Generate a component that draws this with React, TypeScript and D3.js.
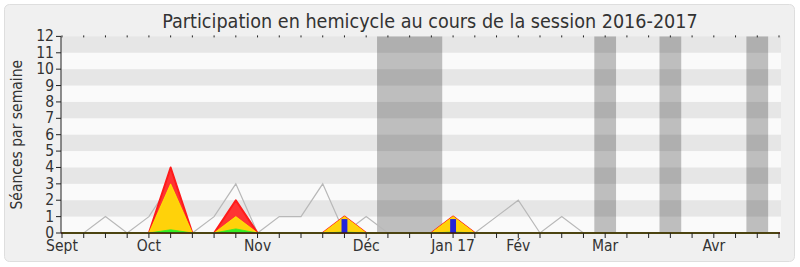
import React from "react";
import * as d3 from "d3";

// Weekly values, session 2016-2017 (one entry per week, starting first week of September)
const weeks = d3.range(34);
const seances = [0, 0, 1, 0, 1, 3, 0, 1, 3, 0, 1, 1, 3, 0, 1, 0, 0, 0, 1, 0, 1, 2, 0, 1, 0, 0, 0, 0, 0, 0, 0, 0, 0, 0];
const participation = [0, 0, 0, 0, 0, 4, 0, 0, 2, 0, 0, 0, 0, 1, 0, 0, 0, 0, 1, 0, 0, 0, 0, 0, 0, 0, 0, 0, 0, 0, 0, 0, 0, 0];
const presence = [0, 0, 0, 0, 0, 3, 0, 0, 1, 0, 0, 0, 0, 1, 0, 0, 0, 0, 1, 0, 0, 0, 0, 0, 0, 0, 0, 0, 0, 0, 0, 0, 0, 0];
const interventions = [0, 0, 0, 0, 0, 0.2, 0, 0, 0.25, 0, 0, 0, 0, 0.06, 0, 0, 0, 0, 0.06, 0, 0, 0, 0, 0, 0, 0, 0, 0, 0, 0, 0, 0, 0, 0];
const questionWeeks = [13, 18];
const questionValues = [0.85, 0.85];
const vacationWeeks = [15, 16, 17, 25, 28, 32];
const monthLabels = ["Sept", "Oct", "Nov", "Déc", "Jan 17", "Fév", "Mar", "Avr"];
const monthWeeks = [0, 4, 9, 14, 18, 21, 25, 30];
const yTicks = d3.range(0, 13);

const W = 800;
const H = 267;
const plotLeft = 61;
const plotRight = 781;
const plotTop = 36.4;
const plotBottom = 233;
const font = "'DejaVu Sans Condensed', 'DejaVu Sans', sans-serif";

// group consecutive vacation weeks into continuous bands
function toRuns(list: number[]): [number, number][] {
  const runs: [number, number][] = [];
  list.forEach((w) => {
    const last = runs[runs.length - 1];
    if (last && last[1] === w - 1) last[1] = w;
    else runs.push([w, w]);
  });
  return runs;
}

export default function App() {
  const x = d3.scaleLinear().domain([0, 33]).range([62, 779]);
  const y = d3.scaleLinear().domain([0, 12]).range([plotBottom, plotTop]);

  const areaOf = (vals: number[]) =>
    d3
      .area<number>()
      .x((i) => x(i))
      .y0(y(0))
      .y1((i) => y(vals[i]))(weeks) as string;

  const line = d3
    .line<number>()
    .x((i) => x(i))
    .y((i) => y(seances[i]))(weeks) as string;

  return (
    <svg
      width={W}
      height={H}
      style={{ position: "absolute", left: 0, top: 0, fontFamily: font }}
    >
      <rect x={4.5} y={4.5} width={790} height={257} rx={5} fill="#f0f0f0" stroke="#dedede" />
      <text x={430} y={28} textAnchor="middle" fontSize={19.6} fill="#333">
        Participation en hemicycle au cours de la session 2016-2017
      </text>

      {/* plot background */}
      <rect x={plotLeft} y={plotTop} width={plotRight - plotLeft} height={plotBottom - plotTop} fill="#fafafa" />

      {/* vacation weeks */}
      {toRuns(vacationWeeks).map(([a, b]) => (
        <rect
          key={"v" + a}
          x={x(a - 0.5)}
          y={plotTop}
          width={x(b + 0.5) - x(a - 0.5)}
          height={plotBottom - plotTop}
          fill="#bebebe"
        />
      ))}

      {/* horizontal bands */}
      {[1, 3, 5, 7, 9, 11].map((v) => (
        <rect
          key={"b" + v}
          x={plotLeft}
          y={y(v + 1)}
          width={plotRight - plotLeft}
          height={y(v) - y(v + 1)}
          fill="rgba(0,0,0,0.08)"
        />
      ))}

      {/* sessions per week */}
      <path d={line} fill="none" stroke="#b8b8b8" strokeWidth={1.2} />

      {/* participation / presence / interventions */}
      <path d={areaOf(participation)} fill="#ff3333" stroke="#ff1a1a" strokeWidth={2} strokeLinejoin="round" />
      <path d={areaOf(presence)} fill="#ffd20a" stroke="#ffee00" strokeWidth={0.8} />
      <path d={areaOf(interventions)} fill="#33ee22" stroke="#33ee22" strokeWidth={0.8} />

      {/* oral questions */}
      {questionWeeks.map((w, k) => (
        <rect
          key={"q" + w}
          x={x(w - 0.135)}
          y={y(questionValues[k])}
          width={x(w + 0.135) - x(w - 0.135)}
          height={y(0) - y(questionValues[k])}
          fill="#2424d8"
        />
      ))}

      {/* baseline */}
      <line x1={plotLeft} x2={plotRight - 1} y1={plotBottom} y2={plotBottom} stroke="#3c1410" strokeWidth={1.5} />
      {/* y axis */}
      <line x1={plotLeft} x2={plotLeft} y1={plotTop} y2={plotBottom} stroke="#222" strokeWidth={1} />
      {yTicks.map((t) => (
        <g key={"y" + t}>
          <line x1={plotLeft - 5} x2={plotLeft} y1={y(t)} y2={y(t)} stroke="#222" />
          <text x={plotLeft - 7} y={y(t) + 5} textAnchor="end" fontSize={15.5} fill="#333">
            {t}
          </text>
        </g>
      ))}

      {/* week ticks */}
      {weeks.map((w) => (
        <g key={"t" + w}>
          <line x1={x(w)} x2={x(w)} y1={plotBottom} y2={plotBottom + 5} stroke="#222" />
          <line x1={x(w)} x2={x(w)} y1={plotTop - 1} y2={plotTop + 1} stroke="#222" />
        </g>
      ))}
      {monthLabels.map((m, k) => (
        <text key={m} x={x(monthWeeks[k])} y={251} textAnchor="middle" fontSize={15.5} fill="#333">
          {m}
        </text>
      ))}

      <text
        transform={`translate(22,${(plotTop + plotBottom) / 2}) rotate(-90)`}
        textAnchor="middle"
        fontSize={15.5}
        fill="#333"
      >
        Séances par semaine
      </text>
    </svg>
  );
}
